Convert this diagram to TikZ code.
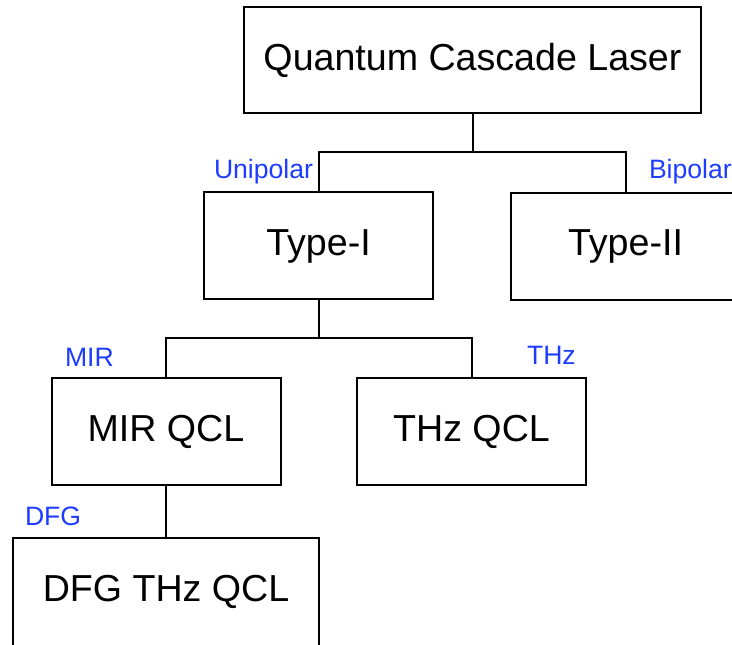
\documentclass[tikz,border=0pt]{standalone}
\usepackage{fontspec}
\setmainfont{Liberation Sans}
\usetikzlibrary{positioning}
\definecolor{tagblue}{HTML}{1E3CFF}

\begin{document}
\begin{tikzpicture}[x=1pt,y=1pt,line width=2pt,every node/.style={font=\fontsize{37.6}{44}\selectfont,align=center},box/.style={draw,inner sep=0pt,minimum width=229pt,minimum height=107pt},tag/.style={text=tagblue,font=\fontsize{26.6}{32}\selectfont,inner sep=0pt,anchor=base west}]
\useasboundingbox (0,0) rectangle (732,645);
\node[box,minimum width=457pt,minimum height=106pt] (qcl) at (472.5,585) {Quantum Cascade Laser};
\node[box] (typeI) at (318.5,399) {Type-I};
\node[box] (typeII) at (625.5,398.5) {Type-II};
\node[box] (mirqcl) at (166,213.5) {MIR QCL};
\node[box] (thzqcl) at (471.5,213) {THz QCL};
\node[box,minimum width=306pt,minimum height=108pt] (dfgqcl) at (166,53) {DFG THz QCL};
\node[tag] (unipolar) at (213,466) {Unipolar};
\node[tag] (bipolar) at (648,466) {Bipolar};
\node[tag] (mir) at (64,278.5) {MIR};
\node[tag] (thz) at (526,280) {THz};
\node[tag] (dfg) at (24,119.5) {DFG};
\draw (qcl.south) -- ++(0,-38) coordinate (j1);
\draw (typeI.north) |- (j1) -| (typeII.north);
\draw (typeI.south) -- ++(0,-38) coordinate (j2);
\draw (mirqcl.north) |- (j2) -| (thzqcl.north);
\draw (mirqcl.south) -- (dfgqcl.north);
\end{tikzpicture}
\end{document}
